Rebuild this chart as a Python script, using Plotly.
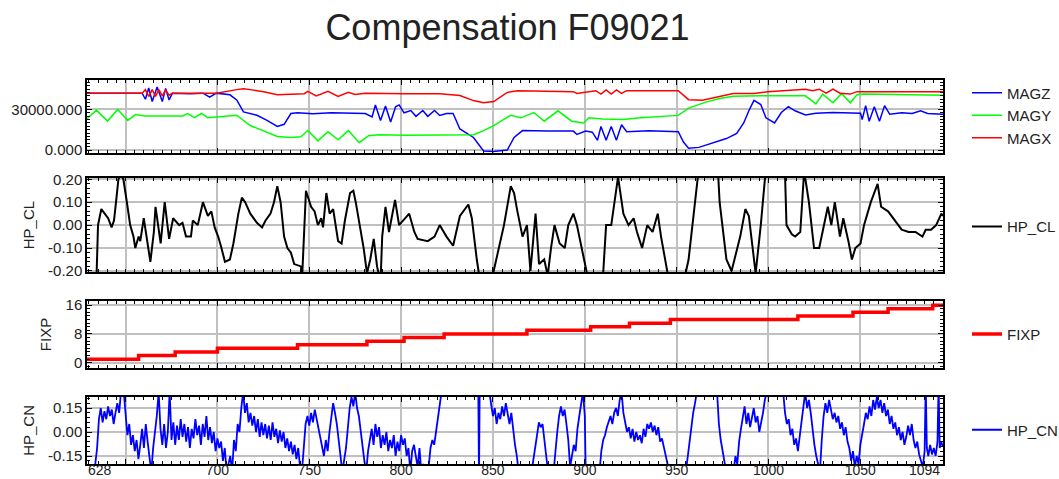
import plotly.graph_objects as go

# ---------------- data ----------------
title_text = "Compensation F09021"

magz_fid = [629, 659, 660.8, 662.6, 664.5, 667.2, 670, 671.8, 673.7, 675.5,
            685, 692.1, 695.8, 699.4, 706.8, 710.5, 714.2, 721.5, 727, 732.6,
            736.3, 740, 743.6, 752, 762, 772, 780.5, 784.2, 786, 788.8,
            791.5, 794.3, 797, 798.9, 801.6, 805.3, 808.1, 811.8, 814.5, 818.2,
            821, 824.7, 828.3, 832, 839.4, 844.9, 850.4, 854.1, 857.8, 861.5,
            866.1, 880, 893.8, 895.7, 900.4, 904.1, 906.9, 908.8, 911.6, 914.4,
            917.2, 920, 922.8, 935, 950.9, 953.7, 956.5, 962.1, 969.6, 977.1,
            982.7, 986.5, 989.3, 992.1, 995.8, 998.6, 1003.3, 1007, 1010.8, 1014.5,
            1020.1, 1025.8, 1035, 1050.1, 1051, 1052.9, 1054.8, 1057.6, 1060.4, 1063.2,
            1066, 1072.5, 1078.2, 1082.8, 1086.6, 1095]
magz_val = [42000, 42000, 37500, 45800, 35800, 46600, 35800, 45500, 37000, 42000,
            41500, 42000, 39000, 42000, 40800, 37000, 28200, 25700, 21900, 17400,
            19000, 27000, 27500, 26800, 27600, 27000, 27000, 24400, 33300, 21900,
            32500, 20700, 32000, 33300, 27500, 29200, 24900, 29200, 24900, 29200,
            25500, 27000, 27000, 15600, 9300, -700, -1000, -500, 0, 9300,
            14400, 14000, 14000, 11500, 14000, 13200, 7200, 17400, 7200, 17400,
            7200, 18700, 13600, 14200, 13600, 5900, 1300, 2000, 5100, 8500,
            12300, 20000, 29000, 36700, 33600, 23800, 20000, 27700, 32000, 29000,
            25900, 27200, 27800, 27200, 22600, 32800, 21300, 32000, 21300, 32800,
            26400, 27500, 27000, 29000, 27000, 26400]

magy_fid = [629, 634.1, 640.2, 645.7, 651.2, 655.3, 660.8, 681, 683.8, 687.5,
            691.2, 694.8, 699.4, 710.5, 717.9, 725.2, 732.6, 740, 745.5, 749.2,
            754.7, 760.2, 765.7, 771.3, 777.2, 782.3, 787.8, 802.6, 821, 839.4,
            844.9, 850.4, 859.7, 865.2, 872.3, 877.9, 885.4, 892.9, 899.4, 902.2,
            909.7, 921, 930.3, 943.4, 950.9, 956.5, 965.9, 973.4, 980.8, 995.8,
            1014.5, 1020.1, 1025.8, 1029.5, 1035.1, 1039.8, 1044.5, 1048.2, 1052, 1095]
magy_val = [23200, 29500, 21400, 30000, 21900, 26200, 25200, 25200, 27000, 23900,
            27000, 23900, 24400, 25700, 18100, 14400, 10100, 9300, 9800, 14400,
            6800, 13600, 7600, 14400, 5500, 10600, 11300, 11000, 11000, 11300,
            14400, 18100, 25700, 23800, 27700, 21300, 29000, 21300, 20000, 23800,
            23000, 22500, 23800, 25100, 25600, 31000, 35400, 38000, 39700, 40000,
            40300, 40000, 34100, 41300, 34900, 41800, 34900, 40800, 41300, 40500]

magx_fid = [629, 659, 660.8, 662.6, 664.5, 666.3, 668.1, 670, 671.8, 673.7,
            675.5, 699.4, 710.5, 714.2, 717.9, 725.2, 732.6, 740, 747.3, 749.2,
            753.8, 760.2, 765.7, 771.3, 775, 780.5, 793.4, 802.6, 821, 832,
            839.4, 844.9, 850.4, 854.1, 857.8, 863.3, 893.8, 895.7, 906, 908.8,
            911.6, 914.4, 917.2, 920, 922.8, 950.9, 956.5, 964, 973.4, 980.8,
            992.1, 999.6, 1020.1, 1023.9, 1027.6, 1031.4, 1035.1, 1038.9, 1044.5, 1048.2,
            1095]
magx_val = [42000, 42000, 44600, 39500, 44600, 39500, 44600, 40000, 44200, 40500,
            42000, 42000, 44600, 45300, 44600, 43100, 40800, 41000, 41600, 43300,
            40000, 43300, 39500, 42600, 41000, 42000, 41600, 41600, 41600, 40300,
            36500, 35000, 35800, 39500, 42600, 43800, 43100, 41800, 43800, 41300,
            44400, 41300, 44400, 41800, 43800, 43800, 37200, 36700, 39700, 41800,
            41800, 43100, 44900, 43800, 44900, 42000, 44900, 42000, 41300, 43100,
            43100]

hpcl_fid = [629, 633.5, 634.1, 635.0, 636.8, 638.7, 640.5, 642.4, 643.7, 644.8,
            646.1, 647.5, 648.8, 650.7, 652.5, 654.3, 655.3, 657.1, 658.0, 659.9,
            661.7, 663.5, 665.4, 666.3, 669.1, 671.3, 672.8, 673.7, 675.9, 679.2,
            681.0, 682.9, 685.6, 686.6, 689.3, 692.1, 694.8, 696.7, 698.5, 700.4,
            702.2, 704.1, 706.8, 708.7, 711.4, 713.3, 715.1, 717.9, 721.5, 724.3,
            726.2, 728.9, 730.8, 732.6, 734.4, 736.3, 738.1, 740.0, 741.8, 745.5,
            746.0, 748.2, 751.0, 752.9, 754.7, 756.5, 757.5, 759.3, 761.1, 763.0,
            765.7, 767.6, 769.4, 772.2, 774.0, 775.3, 779.6, 781.4, 783.2, 785.1,
            786.9, 788.8, 789.7, 791.5, 793.4, 796.7, 798.9, 804.4, 807.2, 809.0,
            814.5, 818.2, 821.0, 824.7, 828.3, 832.0, 836.6, 838.5, 841.2, 843.1,
            849.5, 850.4, 853.2, 856.0, 859.7, 861.5, 863.3, 866.1, 868.5, 870.4,
            873.2, 875.1, 877.9, 879.8, 881.6, 883.5, 886.3, 889.1, 891.0, 893.8,
            895.7, 898.5, 901.3, 902.2, 909.7, 911.6, 914.4, 917.2, 918.1, 921.0,
            923.8, 926.6, 928.4, 931.2, 934.0, 936.9, 939.7, 941.5, 945.3, 954.6,
            956.5, 962.1, 972.4, 973.4, 977.1, 979.9, 984.6, 987.4, 989.3, 993.0,
            995.8, 998.6, 1008.9, 1009.8, 1012.7, 1014.5, 1017.3, 1019.2, 1020.1, 1022.0,
            1024.8, 1027.6, 1030.4, 1032.3, 1034.2, 1036.1, 1038.9, 1040.7, 1043.5, 1045.4,
            1047.3, 1050.1, 1052.0, 1055.7, 1059.4, 1061.3, 1065.1, 1067.9, 1070.7, 1072.5,
            1076.3, 1080.0, 1083.8, 1085.6, 1088.5, 1091.3, 1094.1, 1095]
hpcl_val = [-0.3, -0.3, -0.25, 0.0, 0.07, 0.05, 0.03, -0.01, 0.02, 0.1,
            0.2, 0.22, 0.2, 0.1, 0.0, -0.05, -0.1, -0.05, -0.07, 0.03,
            -0.06, -0.16, -0.03, 0.08, -0.08, 0.1, 0.0, -0.06, 0.03, 0.0,
            0.01, -0.05, -0.05, 0.02, 0.0, 0.1, 0.04, 0.06, -0.01, -0.05,
            -0.1, -0.16, -0.15, -0.08, 0.05, 0.12, 0.1, 0.05, 0.01, -0.01,
            0.02, 0.05, 0.1, 0.17, 0.1, -0.05, -0.1, -0.12, -0.17, -0.18,
            -0.25, 0.15, 0.08, 0.06, 0.0, 0.03, -0.01, 0.14, 0.05, 0.07,
            -0.07, -0.08, 0.02, 0.14, 0.15, 0.1, -0.1, -0.21, -0.15, -0.06,
            -0.18, -0.25, -0.05, 0.08, -0.03, 0.11, 0.0, 0.05, -0.03, -0.06,
            -0.07, -0.05, 0.0, -0.05, -0.09, 0.04, 0.09, 0.03, -0.15, -0.25,
            -0.25, -0.2, -0.1, 0.0, 0.17, 0.14, 0.06, -0.05, 0.0, -0.2,
            0.05, -0.17, -0.15, -0.22, -0.1, 0.0, -0.08, -0.1, 0.0, 0.05,
            0.0, -0.1, -0.2, -0.25, -0.25, 0.0, 0.0, 0.15, 0.21, 0.05,
            0.0, 0.03, -0.03, -0.1, 0.0, -0.03, 0.05, -0.05, -0.22, -0.22,
            -0.15, 0.25, 0.25, 0.1, -0.15, -0.2, -0.05, 0.07, 0.04, -0.21,
            0.0, 0.25, 0.25, 0.0, -0.04, -0.05, -0.03, 0.21, 0.2, 0.1,
            -0.1, -0.1, 0.0, 0.08, 0.0, 0.1, -0.05, 0.03, -0.07, -0.15,
            -0.1, -0.08, 0.0, 0.1, 0.18, 0.08, 0.06, 0.03, 0.0, -0.02,
            -0.03, -0.03, -0.05, -0.02, -0.02, 0.0, 0.05, 0.04]

fixp_fid = [629, 657.1, 677, 700, 743.6, 781.4, 801.6, 823.4, 868.5, 903.2,
            924.3, 946.6, 1016, 1046, 1065.1, 1089.4, 1095]
fixp_val = [1, 2, 3, 4, 5, 6, 7, 8, 9, 10,
            11, 12, 13, 14, 15, 16, 16]

hpcn_fid = [629.5, 633, 634.5, 635.5, 636.5, 637.5, 638.5, 639.5, 640.5, 641.5,
            642.5, 643.5, 644.5, 645.5, 646.5, 647.5, 649, 650, 651, 652,
            653, 654, 655, 656, 657, 658, 659, 660, 661, 662,
            663, 664, 665, 666, 667, 668, 669, 670, 671, 672,
            673, 674, 675, 676, 677, 678, 679, 680, 681, 682,
            683, 684, 685, 686, 687, 688, 689, 690, 691, 692,
            693, 694, 695, 696, 697, 698, 699, 700, 701, 702,
            703, 704, 705, 707, 708, 709, 710, 711, 712, 713,
            714, 715, 716, 717, 718, 719, 720, 721, 722, 723,
            724, 725, 726, 727, 728, 729, 730, 731, 732, 733,
            734, 735, 736, 737, 738, 739, 740, 741, 742, 743,
            744, 745, 746, 747, 748, 749, 750, 751, 752, 753,
            754, 755, 756, 757, 758, 759, 760, 761, 762, 763,
            764, 765, 766, 767, 768, 770, 771, 772, 773, 774,
            775, 776, 777, 778, 779, 780, 781, 782, 783, 784,
            785, 786, 787, 788, 789, 790, 791, 792, 793, 794,
            795, 796, 797, 798, 799, 800, 801, 802, 803, 804,
            805, 806, 807, 808, 809, 810, 811, 812, 813, 815,
            816, 817, 818, 819, 820, 821, 822, 842, 842.4, 842.8,
            848, 849, 850, 851, 852, 853, 854, 855, 856, 857,
            858, 859, 860, 861, 862, 863, 864, 871, 872.5, 874,
            875, 876, 877, 878, 879, 880, 883, 884, 885, 886,
            887, 888, 889, 890, 891, 892, 893, 894, 895, 896,
            897, 898, 899, 900, 900.5, 908, 909, 910, 911, 912,
            913, 914, 915, 916, 917, 918, 919, 920, 921, 922,
            923, 924, 925, 926, 927, 928, 929, 930, 931, 932,
            933, 934, 935, 936, 937, 938, 939, 940, 941, 942,
            943, 944, 945, 946, 955, 956, 957, 958, 959, 960,
            961, 972, 973, 974, 975, 976, 977, 981, 982, 983,
            984, 985, 986, 987, 988, 989, 990, 991, 992, 993,
            994, 995, 996, 997, 998, 999, 1008, 1009, 1010, 1011,
            1012, 1013, 1014, 1015, 1016, 1017, 1018, 1019, 1020, 1021,
            1022, 1023, 1024, 1025, 1026, 1027, 1028, 1029, 1030, 1031,
            1032, 1033, 1034, 1035, 1036, 1037, 1038, 1039, 1040, 1041,
            1042, 1043, 1044, 1045, 1046, 1047, 1048, 1049, 1050, 1051,
            1052, 1053, 1054, 1055, 1056, 1057, 1058, 1059, 1060, 1061,
            1062, 1063, 1064, 1065, 1066, 1067, 1068, 1069, 1070, 1071,
            1072, 1073, 1074, 1075, 1076, 1077, 1078, 1079, 1080, 1081,
            1082, 1083, 1084, 1085, 1085.6, 1086.2, 1087, 1088, 1089, 1090,
            1091, 1092, 1092.6, 1093.2, 1094, 1095]
hpcn_val = [-0.25, -0.25, -0.1, 0.08, 0.15, 0.06, 0.13, 0.08, 0.16, 0.1,
            0.14, 0.05, 0.12, 0.18, 0.12, 0.25, 0.25, 0.1, -0.02, 0.05,
            -0.08, -0.02, -0.12, -0.05, -0.17, -0.08, 0.02, -0.1, 0.05, -0.06,
            -0.15, -0.25, -0.1, 0.0, 0.1, 0.25, 0.02, -0.08, 0.05, -0.1,
            0.0, 0.25, -0.05, 0.06, -0.08, 0.04, -0.05, 0.08, -0.03, 0.05,
            -0.06, 0.03, -0.1, 0.02, -0.04, 0.08, -0.02, 0.04, -0.08, 0.05,
            -0.03, 0.1, -0.05, 0.03, -0.07, 0.0, -0.12, -0.04, -0.1, -0.06,
            -0.18, -0.1, -0.25, -0.15, -0.25, -0.05, -0.12, 0.05, 0.0, 0.15,
            0.25, 0.12, 0.18, 0.06, 0.12, 0.04, 0.1, 0.0, 0.08, -0.03,
            0.06, -0.02, 0.05, -0.04, 0.04, -0.05, 0.06, -0.03, 0.02, -0.07,
            0.01, -0.06, 0.0, -0.1, -0.04, -0.12, -0.06, -0.14, -0.08, -0.17,
            -0.1, -0.22, -0.25, -0.1, 0.05, 0.1, 0.04, 0.12, 0.06, 0.14,
            0.08, 0.03, -0.05, -0.1, -0.15, -0.05, -0.12, 0.0, 0.1, 0.18,
            0.12, 0.05, -0.05, -0.15, -0.25, -0.1, 0.05, 0.15, 0.22, 0.16,
            0.25, 0.15, 0.1, 0.0, -0.1, -0.18, -0.25, -0.12, -0.05, 0.02,
            -0.08, 0.05, -0.03, 0.03, -0.1, -0.02, -0.08, 0.0, -0.12, -0.05,
            -0.1, -0.02, -0.15, -0.06, -0.12, -0.02, -0.08, -0.04, -0.15, -0.1,
            -0.25, -0.12, -0.08, -0.15, -0.22, -0.1, -0.25, -0.2, -0.25, -0.22,
            -0.1, -0.05, -0.08, 0.0, 0.08, 0.15, 0.25, 0.3, -0.3, 0.3,
            0.25, 0.18, 0.1, 0.15, 0.05, 0.12, 0.08, 0.16, 0.1, 0.18,
            0.12, 0.05, 0.12, 0.0, -0.08, -0.15, -0.25, -0.25, -0.12, -0.02,
            0.06, 0.03, 0.05, -0.05, -0.15, -0.25, -0.25, -0.1, 0.0, 0.1,
            0.16, 0.1, 0.14, 0.05, -0.05, -0.22, -0.15, -0.08, -0.12, 0.02,
            0.1, 0.2, 0.25, 0.1, -0.25, -0.25, -0.12, -0.05, -0.02, 0.03,
            0.06, 0.1, 0.05, 0.12, 0.15, 0.1, 0.2, 0.25, 0.12, 0.05,
            0.0, 0.03, -0.04, 0.02, -0.06, 0.0, -0.05, -0.02, -0.07, 0.02,
            -0.03, 0.05, 0.02, 0.06, 0.0, 0.04, -0.02, 0.03, -0.06, -0.04,
            -0.1, -0.15, -0.2, -0.25, -0.25, -0.15, -0.05, 0.05, 0.12, 0.18,
            0.25, 0.25, 0.05, -0.05, -0.12, -0.2, -0.25, -0.25, -0.15, -0.2,
            -0.06, 0.02, 0.1, 0.16, 0.05, 0.12, 0.03, 0.08, 0.15, 0.06,
            0.1, 0.0, 0.05, 0.12, 0.2, 0.25, 0.25, 0.12, 0.05, 0.08,
            -0.02, 0.02, -0.08, -0.04, -0.12, -0.02, 0.08, 0.15, 0.25, 0.15,
            0.2, 0.12, 0.0, -0.08, -0.15, -0.2, -0.25, -0.05, 0.1, 0.18,
            0.12, 0.2, 0.15, 0.08, 0.12, 0.06, 0.1, 0.02, 0.06, -0.02,
            0.03, -0.06, -0.1, -0.18, -0.12, -0.22, -0.15, -0.2, -0.08, 0.0,
            0.05, 0.12, 0.08, 0.16, 0.1, 0.2, 0.14, 0.22, 0.15, 0.2,
            0.12, 0.18, 0.1, 0.14, 0.05, 0.1, 0.02, 0.06, -0.02, 0.03,
            -0.05, 0.0, -0.08, -0.03, 0.04, -0.02, 0.05, -0.05, -0.1, -0.06,
            -0.14, -0.18, -0.22, -0.12, 0.3, -0.1, -0.15, -0.08, -0.14, -0.1,
            -0.15, -0.06, 0.3, -0.1, -0.06, -0.09]

x_tick_vals = [650, 700, 750, 800, 850, 900, 950, 1000, 1050]
x_tick_text = ["", "700", "750", "800", "850", "900", "950", "1000", "1050"]
x_end_labels = ["628", "1094"]

y1_tick_vals = [0, 30000]
y1_tick_text = ["0.000", "30000.000"]
y2_tick_vals = [-0.2, -0.1, 0.0, 0.1, 0.2]
y2_tick_text = ["-0.20", "-0.10", "0.00", "0.10", "0.20"]
y3_tick_vals = [0, 8, 16]
y3_tick_text = ["0", "8", "16"]
y4_tick_vals = [-0.15, 0.0, 0.15]
y4_tick_text = ["-0.15", "0.00", "0.15"]

# ---------------- figure ----------------
FONT = "Liberation Sans, Arial, sans-serif"
TXT = "#222222"
GRID = "#c0c0c0"
X_RANGE = [629, 1095]
W, H = 1059, 479

fig = go.Figure()
fig.add_trace(go.Scatter(x=magz_fid, y=magz_val, name="MAGZ", mode="lines",
                         line=dict(color="#0000ff", width=1.5), xaxis="x", yaxis="y", legend="legend"))
fig.add_trace(go.Scatter(x=magy_fid, y=magy_val, name="MAGY", mode="lines",
                         line=dict(color="#00ff00", width=1.5), xaxis="x", yaxis="y", legend="legend"))
fig.add_trace(go.Scatter(x=magx_fid, y=magx_val, name="MAGX", mode="lines",
                         line=dict(color="#ff0000", width=1.5), xaxis="x", yaxis="y", legend="legend"))
fig.add_trace(go.Scatter(x=hpcl_fid, y=hpcl_val, name="HP_CL", mode="lines",
                         line=dict(color="#000000", width=2.0), xaxis="x2", yaxis="y2", legend="legend2"))
fig.add_trace(go.Scatter(x=fixp_fid, y=fixp_val, name="FIXP", mode="lines",
                         line=dict(color="#ff0000", width=3.5, shape="hv"), xaxis="x3", yaxis="y3", legend="legend3"))
fig.add_trace(go.Scatter(x=hpcn_fid, y=hpcn_val, name="HP_CN", mode="lines",
                         line=dict(color="#0000ff", width=1.8), xaxis="x4", yaxis="y4", legend="legend4"))


def xaxis(anchor, labels):
    return dict(anchor=anchor, domain=[0, 1], range=X_RANGE, automargin=False,
                showline=True, linecolor="black",
                linewidth=1.5, mirror="allticks", ticks="inside", ticklen=5, tickcolor="black",
                tickmode="array", tickvals=x_tick_vals, ticktext=x_tick_text,
                showticklabels=labels, ticklabelstandoff=-8,
                showgrid=True, gridcolor=GRID, gridwidth=1.5,
                zeroline=False, tickfont=dict(family=FONT, size=14, color=TXT),
                minor=dict(ticks="inside", ticklen=3, tickcolor="black", tickmode="linear",
                           tick0=0, dtick=5, showgrid=False))


def yaxis(anchor, dom, rng, vals, text, mdt, title=None):
    d = dict(anchor=anchor, domain=dom, range=rng, automargin=False, showline=True,
             linecolor="black", linewidth=1.5, mirror="allticks", ticks="inside", ticklen=5,
             tickcolor="black", tickmode="array", tickvals=vals, ticktext=text, showgrid=True,
             gridcolor=GRID, gridwidth=1.5, zeroline=False,
             tickfont=dict(family=FONT, size=15, color=TXT),
             minor=dict(ticks="inside", ticklen=3, tickcolor="black", tickmode="linear",
                        tick0=0, dtick=mdt, showgrid=False))
    if title:
        d["title"] = dict(text=title, font=dict(family=FONT, size=15, color=TXT), standoff=10)
    return d


def legend(py):
    return dict(x=967 / W, xref="container", xanchor="left",
                y=1 - py / H, yref="container", yanchor="middle",
                bgcolor="rgba(0,0,0,0)", borderwidth=0,
                font=dict(family=FONT, size=15, color=TXT), tracegroupgap=0)


fig.update_layout(
    width=W, height=H,
    margin=dict(l=87, r=116, t=80, b=15, autoexpand=False),
    paper_bgcolor="white", plot_bgcolor="white",
    title=dict(text=title_text, x=507.5 / W, xanchor="center", y=1 - 27 / H, yanchor="middle",
               yref="container", xref="container",
               font=dict(family=FONT, size=36, color=TXT)),
    xaxis=dict(xaxis("y", False), matches="x4"),
    xaxis2=dict(xaxis("y2", False), matches="x4"),
    xaxis3=dict(xaxis("y3", False), matches="x4"),
    xaxis4=xaxis("y4", True),
    yaxis=yaxis("x", [0.8104, 1.0], [-2000, 51700], y1_tick_vals, y1_tick_text, 2500),
    yaxis2=yaxis("x2", [0.4997, 0.7445], [-0.205, 0.205], y2_tick_vals, y2_tick_text, 0.02, "HP_CL"),
    yaxis3=yaxis("x3", [0.2505, 0.424], [-1.4, 17.1], y3_tick_vals, y3_tick_text, 1, "FIXP"),
    yaxis4=yaxis("x4", [0.0, 0.175], [-0.2, 0.22], y4_tick_vals, y4_tick_text, 0.03, "HP_CN"),
    legend=legend(115.5),
    legend2=legend(226.7),
    legend3=legend(334.3),
    legend4=legend(430),
    showlegend=True,
)

fig.add_annotation(text=x_end_labels[0], x=X_RANGE[0], xref="x4", y=-6 / 384, yref="paper",
                   xanchor="left", yanchor="middle", showarrow=False, borderpad=0,
                   font=dict(family=FONT, size=14, color=TXT))
fig.add_annotation(text=x_end_labels[1], x=X_RANGE[1], xref="x4", y=-6 / 384, yref="paper",
                   xanchor="right", yanchor="middle", showarrow=False, xshift=-2, borderpad=0,
                   font=dict(family=FONT, size=14, color=TXT))

fig.write_html("out.html", config={"displayModeBar": False},
               post_script="document.body.style.margin='0px';")
